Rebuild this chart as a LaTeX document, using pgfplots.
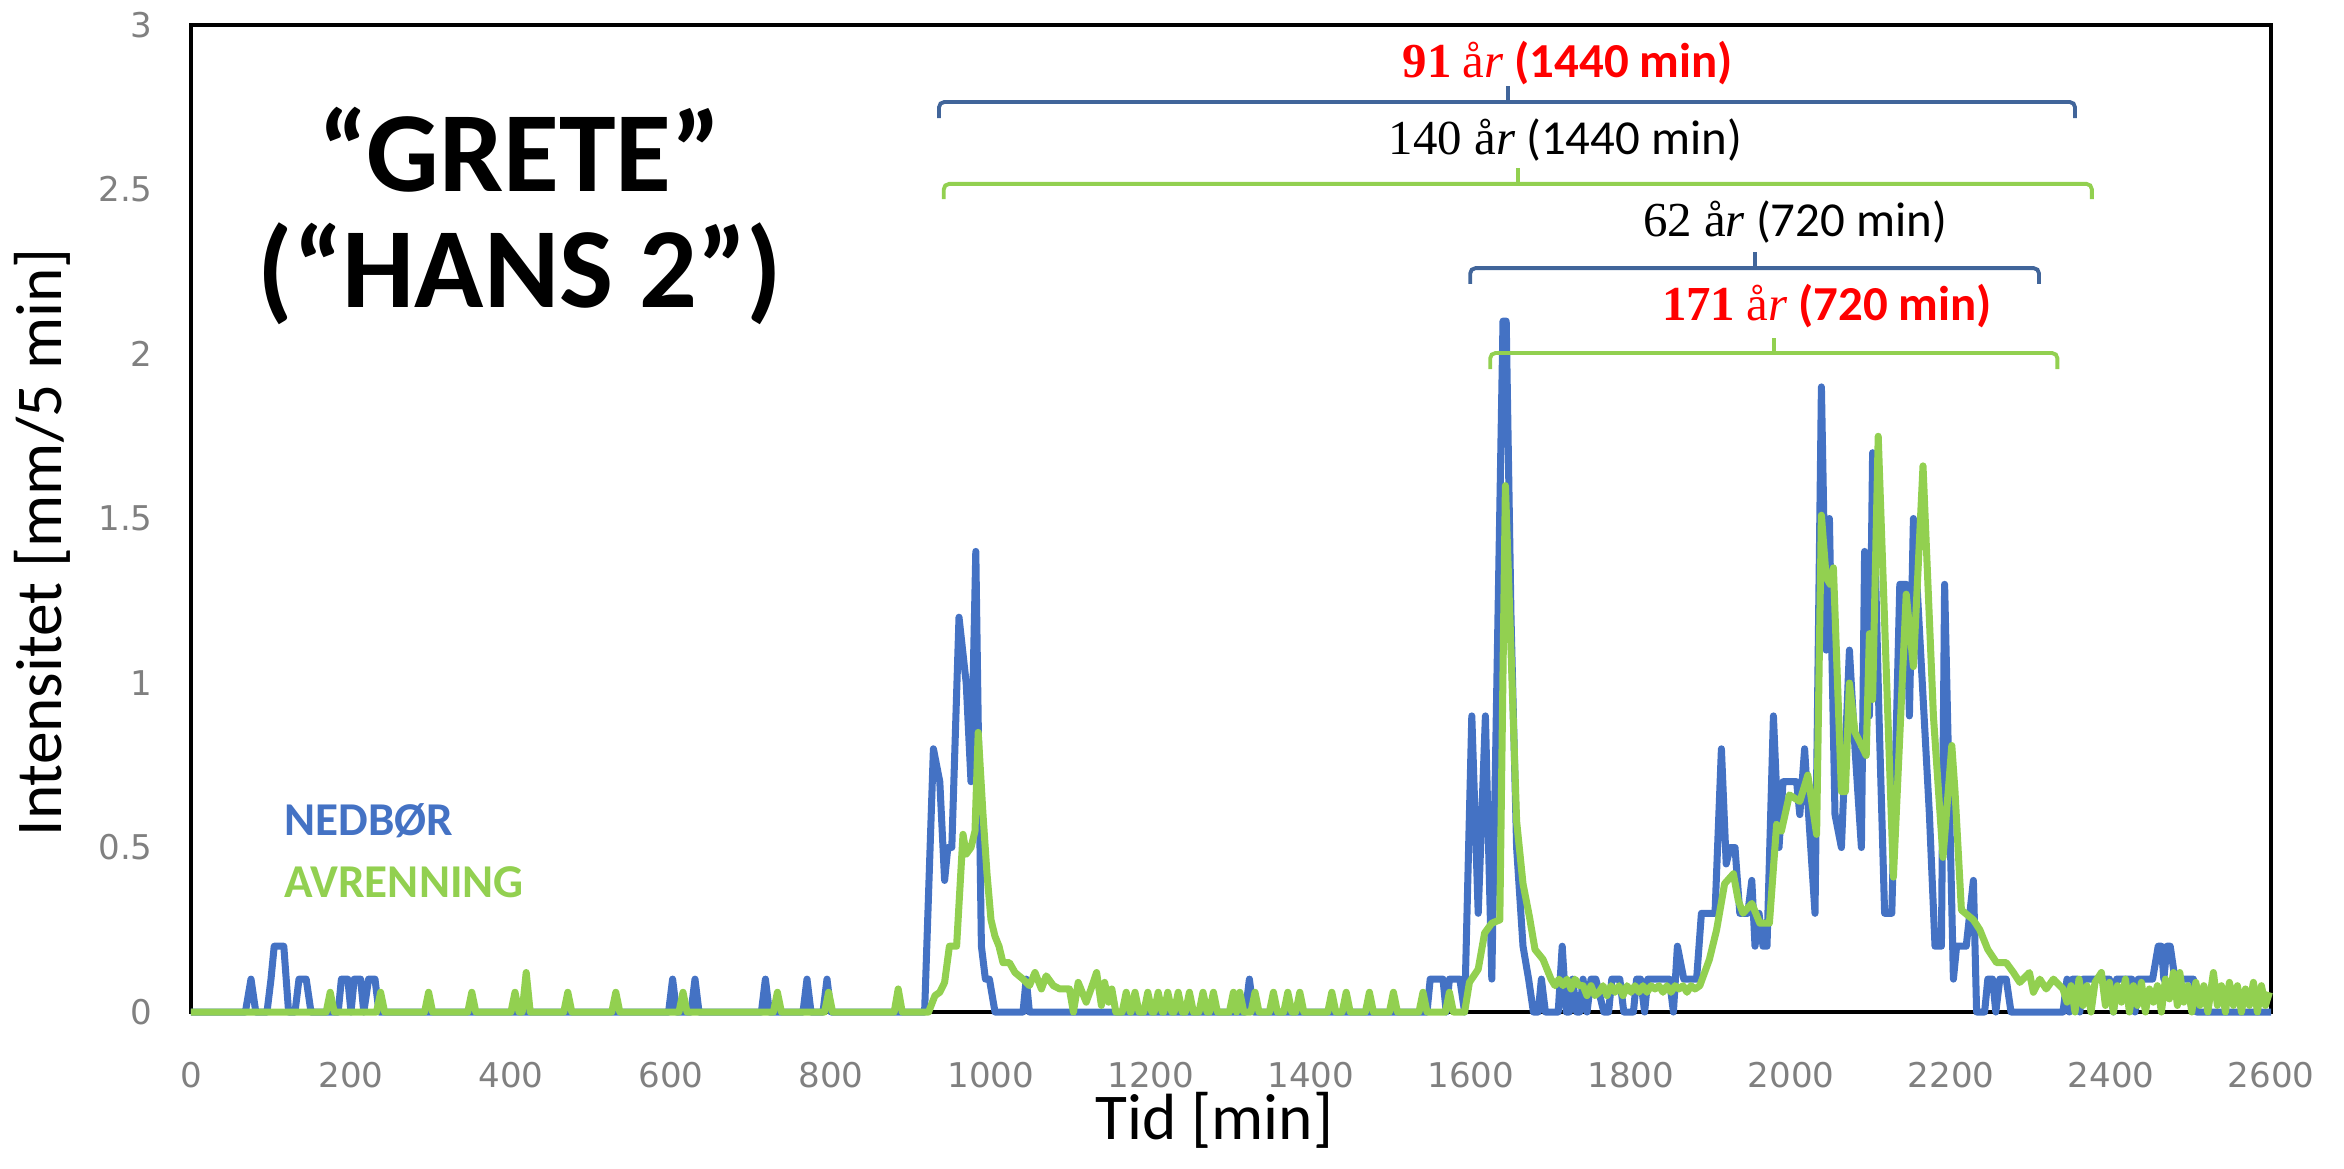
\documentclass[border=0pt]{standalone}
\usepackage{fontspec}
\setmainfont{Carlito}
\newfontfamily\dejavu{DejaVu Sans}
\newfontfamily\serif{Liberation Serif}
\usepackage{pgfplots}
\pgfplotsset{compat=1.18}
\definecolor{nblue}{HTML}{4472C4}
\definecolor{agreen}{HTML}{92D050}
\definecolor{bblue}{HTML}{41659A}
\definecolor{tickgray}{RGB}{128,128,128}
\begin{document}
\begin{tikzpicture}
\path[use as bounding box] (-19.1mm,-15.6mm) rectangle (215.3mm,101.2mm);
\begin{axis}[
  at={(0,0)}, anchor=south west,
  scale only axis, width=208mm, height=98.7mm,
  xmin=0, xmax=2600, ymin=0, ymax=3,
  xtick={0,200,...,2600}, ytick={0,0.5,1,1.5,2,2.5,3},
  tick style={draw=none},
  axis line style={line width=1.1pt, black},
  clip=false,
  /pgf/number format/assume math mode=true,
  /pgf/number format/1000 sep={},
  ticklabel style={font=\dejavu\fontsize{9.7}{11}\selectfont, text=tickgray},
  xticklabel style={yshift=-3.8mm},
  yticklabel style={xshift=-2.6mm},
]
\addplot[nblue, line width=2pt, line join=round] coordinates {
(0,0) (68,0) (75,0.1) (81,0) (95,0) (100,0.1) (104,0.2) (116,0.2) (122,0) (130,0) (135,0.1) (144,0.1) (150,0)
(184,0) (188,0.1) (196,0.1) (200,0) (204,0.1) (212,0.1) (216,0) (222,0.1) (230,0.1) (235,0)
(597,0) (602,0.1) (607,0) (625,0) (630,0.1) (635,0) (713,0) (718,0.1) (723,0) (765,0) (770,0.1) (775,0) (790,0) (795,0.1) (800,0)
(917,0) (928,0.8) (936,0.7) (942,0.4) (946,0.5) (951,0.5) (960,1.2) (969,1.0) (975,0.7) (981,1.4) (988,0.2) (993,0.1) (998,0.1) (1005,0)
(1040,0) (1044,0.1) (1048,0) (1318,0) (1323,0.1) (1328,0)
(1545,0) (1549,0.1) (1565,0.1) (1569,0) (1573,0.1) (1586,0.1) (1592,0) (1601,0.9) (1609,0.3) (1618,0.9) (1626,0.1) (1640,2.1) (1644,2.1)
(1650,1.2) (1657,0.5) (1665,0.2) (1672,0.1) (1678,0) (1684,0) (1688,0.1) (1693,0) (1709,0) (1714,0.2) (1719,0) (1723,0) (1727,0.1) (1732,0)
(1736,0) (1740,0.1) (1745,0) (1750,0.1) (1756,0.1) (1766,0) (1772,0) (1776,0.1) (1786,0.1) (1791,0) (1803,0) (1807,0.1) (1812,0.1) (1817,0)
(1821,0.1) (1848,0.1) (1853,0) (1858,0.2) (1866,0.1) (1882,0.1) (1888,0.3) (1905,0.3) (1913,0.8) (1919,0.45) (1924,0.5) (1930,0.5) (1936,0.3)
(1946,0.3) (1951,0.4) (1955,0.2) (1960,0.3) (1965,0.2) (1970,0.2) (1978,0.9) (1985,0.5) (1990,0.7) (2007,0.7) (2011,0.6) (2017,0.8) (2022,0.6)
(2030,0.3) (2038,1.9) (2044,1.1) (2048,1.5) (2051,1.1) (2055,0.6) (2063,0.5) (2073,1.1) (2080,0.8) (2088,0.5) (2092,1.4) (2098,0.9) (2102,1.7)
(2110,0.9) (2117,0.3) (2126,0.3) (2136,1.3) (2144,1.3) (2148,0.9) (2153,1.5) (2173,0.6) (2180,0.2) (2188,0.2) (2192,1.3) (2203,0.1) (2207,0.2)
(2219,0.2) (2228,0.4) (2232,0) (2242,0) (2246,0.1) (2252,0.1) (2256,0) (2261,0.1) (2269,0.1) (2275,0)
(2340,0) (2345,0.1) (2348,0) (2352,0.1) (2358,0.1) (2361,0) (2365,0.1) (2398,0.1) (2403,0) (2407,0.1) (2426,0.1) (2430,0) (2434,0.1) (2452,0.1)
(2459,0.2) (2463,0.2) (2466,0.1) (2470,0.2) (2474,0.2) (2480,0.1) (2503,0.1) (2507,0) (2600,0)
};
\addplot[agreen, line width=2pt, line join=round] coordinates {
(0,0) (169,0) (174,0.06) (179,0) (232,0) (237,0.06) (242,0) (292,0) (297,0.06) (302,0) (346,0) (351,0.06) (356,0) (400,0) (405,0.06) (410,0)
(414,0) (419,0.12) (424,0) (466,0) (471,0.06) (476,0) (526,0) (531,0.06) (536,0) (610,0) (615,0.06) (620,0) (728,0) (733,0.06) (738,0)
(792,0) (797,0.06) (802,0) (879,0) (884,0.07) (889,0) (922,0) (930,0.05) (936,0.06) (942,0.09) (948,0.2) (957,0.2) (965,0.54) (969,0.48)
(975,0.5) (980,0.55) (984,0.85) (990,0.6) (995,0.42) (1000,0.28) (1005,0.23) (1010,0.2) (1015,0.15) (1023,0.15) (1030,0.12) (1040,0.1)
(1048,0.08) (1055,0.12) (1063,0.07) (1069,0.11) (1078,0.08) (1086,0.07) (1098,0.07) (1103,0) (1109,0.09) (1119,0.03) (1125,0.07) (1132,0.12)
(1138,0.02) (1142,0.09) (1147,0.03) (1151,0.07) (1156,0)
(1164,0) (1169,0.06) (1174,0) (1175,0) (1180,0.06) (1185,0) (1191,0) (1196,0.06) (1201,0) (1204,0) (1209,0.06) (1214,0) (1216,0) (1221,0.06) (1226,0)
(1229,0) (1234,0.06) (1239,0) (1243,0) (1248,0.06) (1253,0) (1260,0) (1265,0.06) (1270,0) (1273,0) (1278,0.06) (1283,0) (1298,0) (1303,0.06)
(1307,0) (1311,0.06) (1316,0) (1325,0) (1330,0.06) (1335,0) (1348,0) (1353,0.06) (1358,0) (1366,0) (1371,0.06) (1376,0) (1381,0) (1386,0.06)
(1391,0) (1421,0) (1426,0.06) (1431,0) (1439,0) (1444,0.06) (1449,0) (1468,0) (1473,0.06) (1478,0) (1498,0) (1503,0.06) (1508,0) (1535,0)
(1540,0.06) (1545,0) (1568,0) (1573,0.06) (1578,0) (1592,0) (1598,0.09) (1609,0.13) (1617,0.24) (1626,0.27) (1636,0.28) (1643,1.6)
(1650,1.1) (1657,0.58) (1665,0.39) (1673,0.29) (1680,0.19) (1690,0.16) (1700,0.1) (1705,0.08) (1710,0.1) (1715,0.08) (1720,0.1) (1725,0.07)
(1730,0.1) (1735,0.08) (1740,0.08) (1745,0.05) (1750,0.08) (1755,0.05) (1760,0.06) (1765,0.08) (1770,0.05) (1775,0.08) (1780,0.06) (1785,0.08)
(1790,0.05) (1795,0.08) (1800,0.06) (1805,0.08) (1810,0.06) (1815,0.08) (1820,0.06) (1825,0.08) (1830,0.07) (1835,0.08) (1840,0.06) (1845,0.08)
(1850,0.06) (1855,0.08) (1860,0.07) (1865,0.08) (1870,0.06) (1875,0.08) (1880,0.07) (1886,0.08) (1898,0.16) (1907,0.25) (1917,0.39) (1928,0.42)
(1934,0.34) (1940,0.3) (1951,0.33) (1961,0.27) (1973,0.27) (1982,0.57) (1988,0.55) (1998,0.66) (2011,0.64) (2021,0.72) (2032,0.54) (2038,1.51)
(2044,1.32) (2049,1.3) (2053,1.35) (2063,0.67) (2068,0.67) (2073,1.0) (2080,0.85) (2090,0.8) (2094,0.78) (2098,1.15) (2102,0.95) (2109,1.75)
(2128,0.41) (2144,1.27) (2153,1.05) (2165,1.66) (2178,0.9) (2190,0.47) (2201,0.81) (2205,0.67) (2213,0.31) (2228,0.28) (2236,0.25) (2246,0.19)
(2257,0.15) (2269,0.15) (2278,0.12) (2286,0.09) (2298,0.12) (2303,0.06) (2311,0.1) (2319,0.07) (2328,0.1) (2340,0.07) (2345,0.03)
(2350,0.08) (2355,0) (2360,0.1) (2365,0.02) (2370,0.08) (2375,0) (2380,0.09) (2388,0.12) (2393,0.02) (2398,0.09) (2403,0) (2408,0.08)
(2413,0.03) (2418,0.1) (2423,0) (2428,0.08) (2433,0.02) (2438,0.09) (2443,0) (2448,0.07) (2453,0.03) (2458,0.08) (2463,0) (2468,0.1)
(2473,0.04) (2478,0.12) (2483,0.02) (2486,0.12) (2491,0.03) (2496,0.08) (2501,0) (2506,0.09) (2511,0.02) (2516,0.08) (2521,0) (2528,0.12)
(2533,0.02) (2538,0.08) (2543,0) (2548,0.09) (2553,0.02) (2558,0.08) (2563,0) (2568,0.07) (2573,0.02) (2578,0.09) (2583,0) (2588,0.08)
(2593,0.02) (2598,0.06)
};
% braces
\draw[bblue, line width=1.1pt, rounded corners=1.5pt] (axis cs:935,2.717) -- (axis cs:935,2.766) -- (axis cs:2355,2.766) -- (axis cs:2355,2.717);
\draw[bblue, line width=1.1pt] (axis cs:1646,2.766) -- (axis cs:1646,2.815);
\draw[agreen, line width=1.1pt, rounded corners=1.5pt] (axis cs:941,2.471) -- (axis cs:941,2.517) -- (axis cs:2376,2.517) -- (axis cs:2376,2.471);
\draw[agreen, line width=1.1pt] (axis cs:1659,2.517) -- (axis cs:1659,2.565);
\draw[bblue, line width=1.1pt, rounded corners=1.5pt] (axis cs:1599,2.213) -- (axis cs:1599,2.261) -- (axis cs:2310,2.261) -- (axis cs:2310,2.213);
\draw[bblue, line width=1.1pt] (axis cs:1955,2.261) -- (axis cs:1955,2.31);
\draw[agreen, line width=1.1pt, rounded corners=1.5pt] (axis cs:1624,1.954) -- (axis cs:1624,2.003) -- (axis cs:2333,2.003) -- (axis cs:2333,1.954);
\draw[agreen, line width=1.1pt] (axis cs:1979,2.003) -- (axis cs:1979,2.05);
% annotation texts
\node[red, inner sep=0pt, font=\fontsize{13.9}{15}\selectfont] at (axis cs:1721,2.885) {{\serif\bfseries 91} {\serif å\textit{r}} \textbf{(1440 min)}};
\node[black, inner sep=0pt, font=\fontsize{13.9}{15}\selectfont] at (axis cs:1718,2.65) {{\serif 140 å\textit{r}} (1440 min)};
\node[black, inner sep=0pt, font=\fontsize{13.9}{15}\selectfont] at (axis cs:2005,2.40) {{\serif 62 å\textit{r}} (720 min)};
\node[red, inner sep=0pt, font=\fontsize{13.9}{15}\selectfont] at (axis cs:2045,2.146) {{\serif\bfseries 171} {\serif å\textit{r}} \textbf{(720 min)}};
% titles
\node[inner sep=0pt, font=\bfseries\fontsize{32.5}{34}\selectfont] at (axis cs:411,2.62) {“GRETE”};
\node[inner sep=0pt, font=\bfseries\fontsize{32.5}{34}\selectfont] at (axis cs:411,2.243) {(“HANS 2”)};
\node[nblue, anchor=west, inner sep=0pt, font=\bfseries\fontsize{13.4}{15}\selectfont] at (axis cs:116,0.58) {NEDBØR};
\node[agreen, anchor=west, inner sep=0pt, font=\bfseries\fontsize{13.4}{15}\selectfont] at (axis cs:116,0.395) {AVRENNING};
% axis labels
\node[inner sep=0pt, rotate=90, font=\fontsize{18.6}{20}\selectfont] at (rel axis cs:-0.0716,0.476) {Intensitet [mm/5 min]};
\node[inner sep=0pt, font=\fontsize{18.6}{20}\selectfont] at (rel axis cs:0.492,-0.110) {Tid [min]};
\end{axis}
\end{tikzpicture}
\end{document}
